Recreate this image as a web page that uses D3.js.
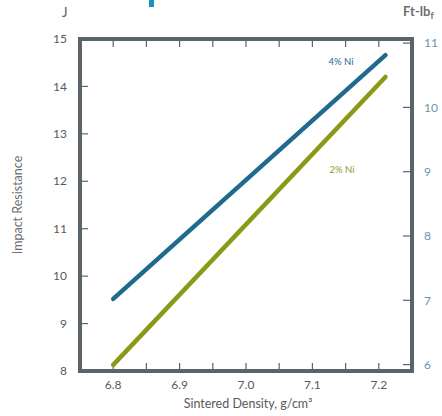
<!DOCTYPE html>
<html><head><meta charset="utf-8">
<script src="https://cdn.jsdelivr.net/npm/d3@7"></script>
<style>body{margin:0;background:#fff;} svg{display:block;font-family:Lato,"Open Sans",sans-serif;}</style>
</head><body>
<svg id="c" width="442" height="416"></svg>
<script>
const densityTicks = [6.8, 6.9, 7.0, 7.1, 7.2];
const minorDensityTicks = [6.8, 6.85, 6.9, 6.95, 7.0, 7.05, 7.1, 7.15, 7.2];
const jouleTicks = [8, 9, 10, 11, 12, 13, 14, 15];
const ftlbTicks = [6, 7, 8, 9, 10, 11];
const seriesNames = ["4% Ni", "2% Ni"];
const ni4Density = [6.8, 7.21];
const ni4Impact = [9.52, 14.66];
const ni2Density = [6.8, 7.21];
const ni2Impact = [8.13, 14.2];
const FTLB_TO_J = 1.3558;

const svg = d3.select("#c");
const L = 80, R = 412, T = 39, B = 371;
const x = d3.scaleLinear().domain([6.75, 7.25]).range([L, R]);
const y = d3.scaleLinear().domain([8, 15]).range([B, T]);

const frameColor = "#5b6569";
const blue = "#1f6a8d";
const green = "#8a9a16";

// cropped title remnant (glyph fragment at the top edge)
svg.append("rect").attr("x", 149).attr("y", 0).attr("width", 5).attr("height", 7).attr("fill", "#1b8fc0");

// ticks
const tk = svg.append("g").attr("stroke", frameColor).attr("stroke-width", 1.2);
minorDensityTicks.forEach(d => {
  tk.append("line").attr("x1", x(d)).attr("x2", x(d)).attr("y1", T).attr("y2", T + 8);
  tk.append("line").attr("x1", x(d)).attr("x2", x(d)).attr("y1", B).attr("y2", B - 8);
});
jouleTicks.slice(1, -1).forEach(v => {
  tk.append("line").attr("x1", L).attr("x2", L + 8).attr("y1", y(v)).attr("y2", y(v));
});
ftlbTicks.forEach(v => {
  tk.append("line").attr("x1", R).attr("x2", R - 9).attr("y1", y(v * FTLB_TO_J)).attr("y2", y(v * FTLB_TO_J));
});

// lines
const line = d3.line().x(d => x(d[0])).y(d => y(d[1]));
svg.append("path").datum(d3.zip(ni4Density, ni4Impact)).attr("d", line)
  .attr("stroke", blue).attr("stroke-width", 4.5).attr("fill", "none").attr("stroke-linecap", "round");
svg.append("path").datum(d3.zip(ni2Density, ni2Impact)).attr("d", line)
  .attr("stroke", green).attr("stroke-width", 4.5).attr("fill", "none").attr("stroke-linecap", "round");

// frame
svg.append("rect").attr("x", L).attr("y", T).attr("width", R - L).attr("height", B - T)
  .attr("fill", "none").attr("stroke", frameColor).attr("stroke-width", 4);

// tick labels
const lab = svg.append("g").attr("font-size", 12);
jouleTicks.forEach(v => {
  lab.append("text").attr("x", 67).attr("y", y(v)).attr("dy", "0.35em").attr("text-anchor", "end")
    .attr("fill", "#58595b").text(v);
});
ftlbTicks.forEach(v => {
  lab.append("text").attr("x", 424).attr("y", y(v * FTLB_TO_J)).attr("dy", "0.35em").attr("text-anchor", "start")
    .attr("fill", "#6f93ab").text(v);
});
densityTicks.forEach(d => {
  lab.append("text").attr("x", x(d)).attr("y", 389).attr("text-anchor", "middle")
    .attr("fill", "#58595b").text(d3.format(".1f")(d));
});

// series labels
svg.append("text").attr("x", 341).attr("y", 65).attr("text-anchor", "middle").attr("font-size", 9.5)
  .attr("fill", blue).text(seriesNames[0]);
svg.append("text").attr("x", 342).attr("y", 173).attr("text-anchor", "middle").attr("font-size", 9.5)
  .attr("fill", "#8f9a2a").text(seriesNames[1]);

// axis titles
svg.append("text").attr("x", 62).attr("y", 17).attr("font-size", 13).attr("fill", "#58595b").text("J");
const ft = svg.append("text").attr("x", 403).attr("y", 16).attr("font-size", 13).attr("font-weight", "bold").attr("fill", "#6d6e70");
ft.append("tspan").text("Ft-lb");
ft.append("tspan").attr("font-size", 9).attr("dy", 3).text("f");
svg.append("text").attr("transform", "translate(22,205) rotate(-90)").attr("text-anchor", "middle")
  .attr("font-size", 12.5).attr("fill", "#6d6e70").text("Impact Resistance");
svg.append("text").attr("x", 248).attr("y", 408).attr("text-anchor", "middle")
  .attr("font-size", 12.5).attr("fill", "#58595b").text("Sintered Density, g/cm³");
</script>
</body></html>
